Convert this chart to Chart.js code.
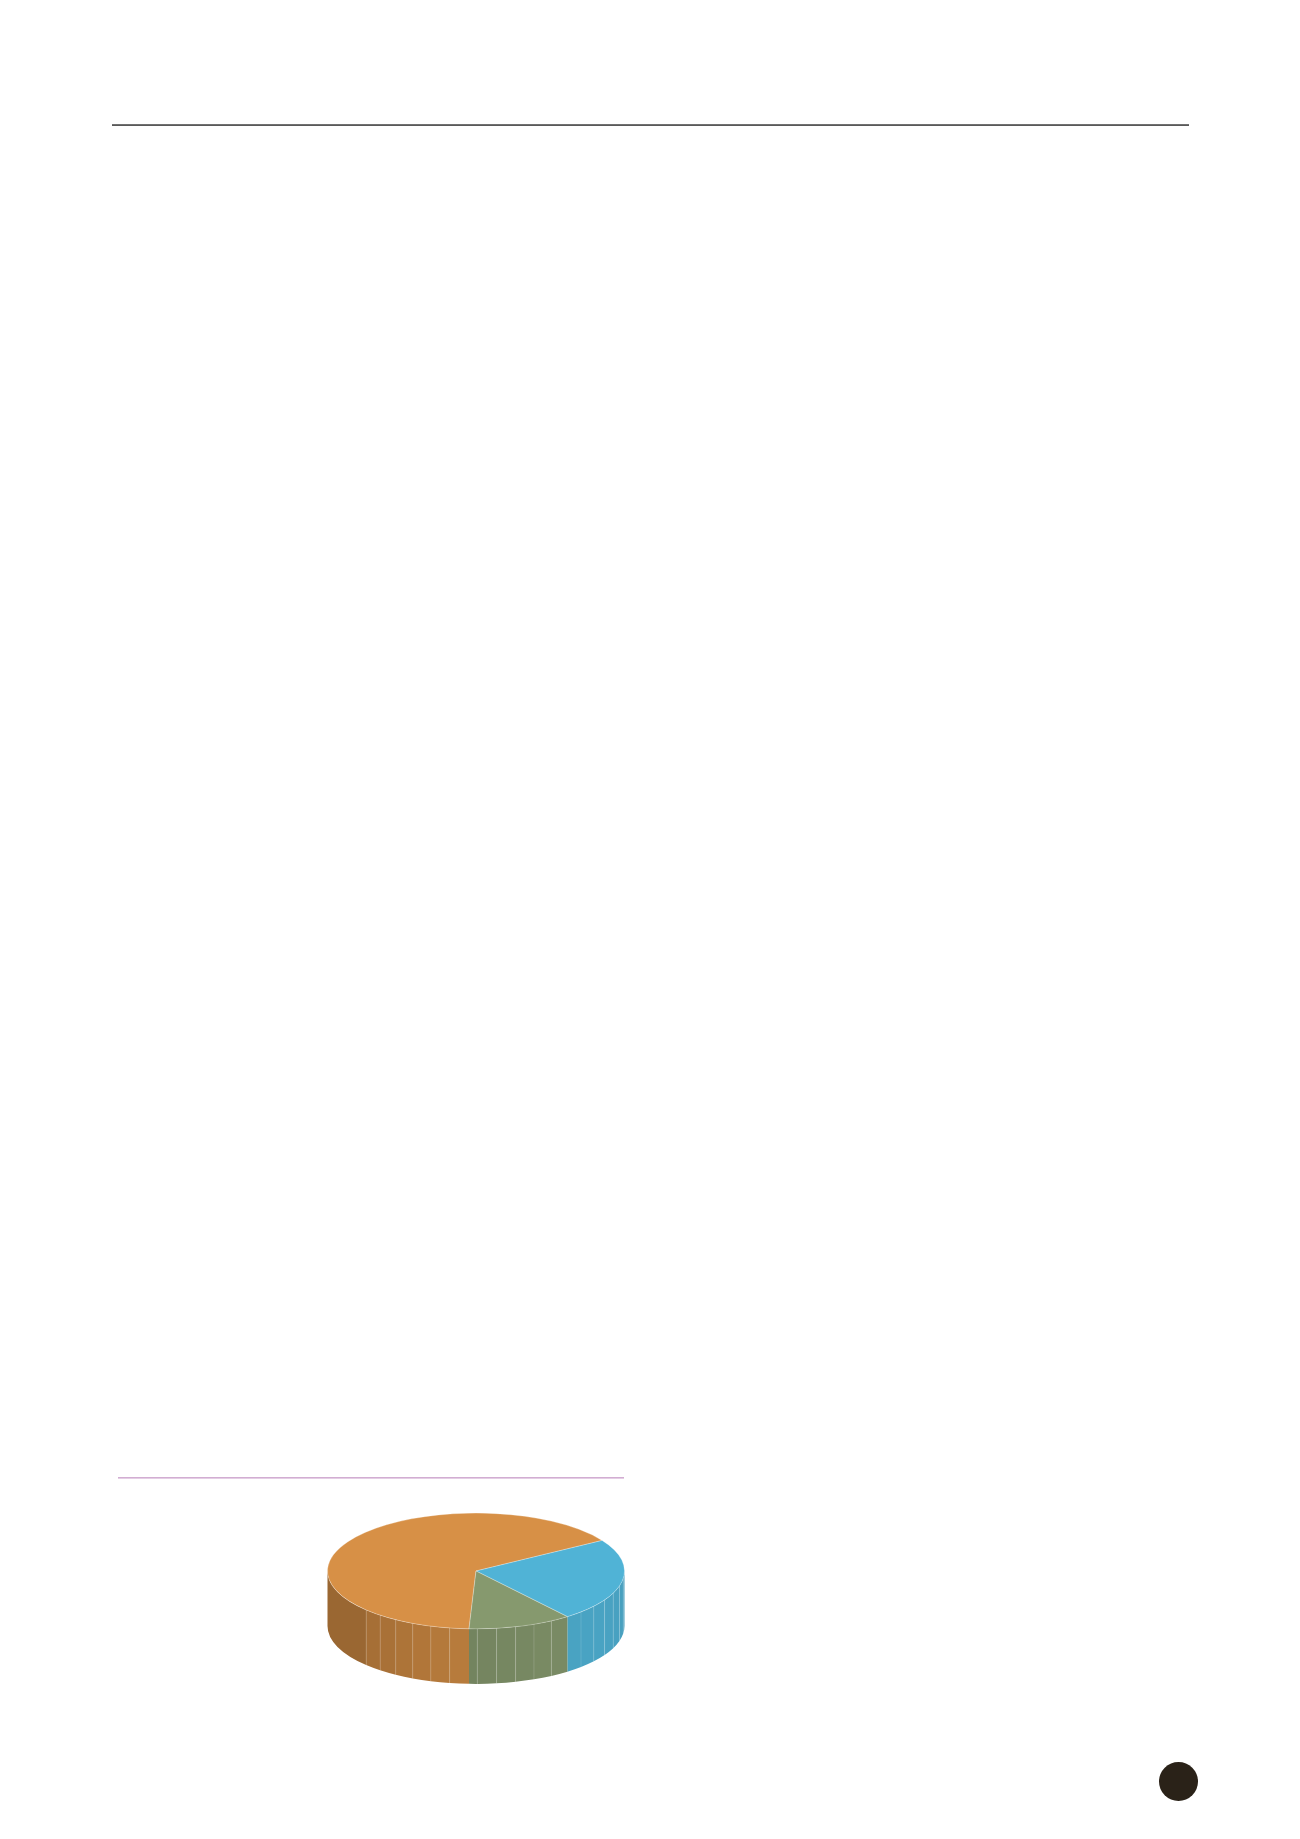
<!DOCTYPE html>
<html>
<head>
<meta charset="utf-8">
<script src="https://cdn.jsdelivr.net/npm/chart.js@4.4.1/dist/chart.umd.min.js"></script>
<style>
html, body { margin: 0; padding: 0; background: #fff; }
body { width: 1300px; height: 1839px; position: relative; overflow: hidden; }
#topRule { position: absolute; left: 112px; top: 124px; width: 1077px; height: 2px; background: linear-gradient(#7c7c7c, #4e4e4e); }
#chartRule { position: absolute; left: 118px; top: 1477px; width: 506px; height: 2px; background: linear-gradient(#c99fc9, #eddced); }
#pieBox { position: absolute; left: 327px; top: 1422px; width: 298px; height: 298px; }
#pageDot { position: absolute; left: 1159px; top: 1762px; width: 39px; height: 39px; border-radius: 50%; background: #2a2218; }
</style>
</head>
<body>
<div id="topRule"></div>
<div id="chartRule"></div>
<div id="pieBox"><canvas id="pieChart" width="298" height="298"></canvas></div>
<div id="pageDot"></div>
<script>
'use strict';

var sliceLabels = ['Slice A', 'Slice B', 'Slice C'];
var sliceShares = [65.4, 23.3, 11.3];
var sliceColors = ['#d79046', '#50b3d6', '#86996e'];

var TILT = 0.39;   // vertical squash of the disc
var DEPTH = 55;    // wall height on screen, px
var FACET = 7.5 * Math.PI / 180;
var FLAT_FROM = 137 * Math.PI / 180;  // left part of the wall is one facet

function shade(hex, f) {
    var n = parseInt(hex.slice(1), 16);
    var r = Math.round(((n >> 16) & 255) * f);
    var g = Math.round(((n >> 8) & 255) * f);
    var b = Math.round((n & 255) * f);
    return 'rgb(' + r + ',' + g + ',' + b + ')';
}

function wallFacet(ctx, cx, cy, r, d, a, b, color, seam) {
    var f = 0.78 + 0.13 * Math.cos((a + b) / 2 - 40 * Math.PI / 180);
    ctx.beginPath();
    ctx.arc(cx, cy, r, a, b);
    ctx.arc(cx, cy + d, r, b, a, true);
    ctx.closePath();
    ctx.fillStyle = shade(color, f);
    ctx.fill();

    if (!seam) return;
    ctx.beginPath();
    ctx.moveTo(cx + r * Math.cos(a), cy + r * Math.sin(a));
    ctx.lineTo(cx + r * Math.cos(a), cy + r * Math.sin(a) + d);
    ctx.strokeStyle = 'rgba(255,255,255,0.2)';
    ctx.lineWidth = 1;
    ctx.stroke();
}

var pie3d = {
    id: 'pie3d',
    beforeDatasetsDraw: function (chart) {
        var ctx = chart.ctx;
        var arcs = chart.getDatasetMeta(0).data;
        var cx = arcs[0].x, cy = arcs[0].y;
        var d = DEPTH / TILT;

        ctx.save();
        ctx.translate(cx, cy);
        ctx.scale(1, TILT);
        ctx.translate(-cx, -cy);

        arcs.forEach(function (arc, i) {
            var r = arc.outerRadius;
            // only the front half of the wall is visible
            [-2 * Math.PI, 0, 2 * Math.PI].forEach(function (base) {
                var a0 = Math.max(arc.startAngle, base);
                var a1 = Math.min(arc.endAngle, base + Math.PI);
                for (var a = a0; a < a1 - 1e-6; a += FACET) {
                    var b = Math.min(a + FACET, a1);
                    if (a - base >= FLAT_FROM) {
                        wallFacet(ctx, cx, cy, r, d, a, a1, sliceColors[i], true);
                        break;
                    }
                    wallFacet(ctx, cx, cy, r, d, a, b, sliceColors[i], a > a0);
                }
            });
        });
    },
    afterDatasetsDraw: function (chart) {
        chart.ctx.restore();
    }
};

var ctx = document.getElementById('pieChart').getContext('2d');
new Chart(ctx, {
    type: 'pie',
    data: {
        labels: sliceLabels,
        datasets: [{
            data: sliceShares,
            backgroundColor: sliceColors,
            borderColor: 'rgba(255,255,255,0.4)',
            borderWidth: 1
        }]
    },
    options: {
        responsive: false,
        animation: false,
        rotation: 182.7,
        layout: { padding: 0 },
        plugins: {
            legend: { display: false },
            tooltip: { enabled: false }
        }
    },
    plugins: [pie3d]
});
</script>
</body>
</html>
